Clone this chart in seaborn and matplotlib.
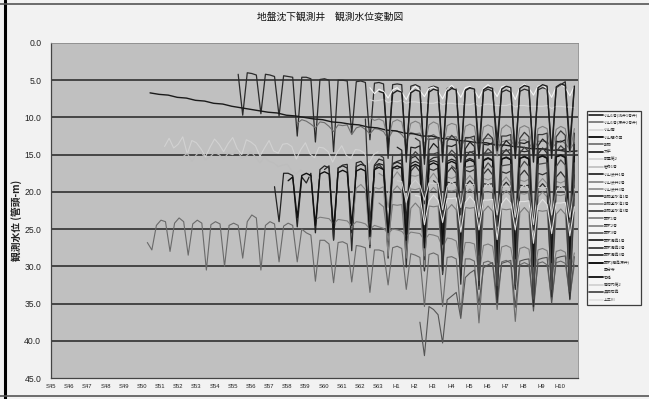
import numpy as np
import pandas as pd
import matplotlib
matplotlib.use("Agg")
import matplotlib.pyplot as plt
import seaborn as sns
from matplotlib.lines import Line2D

sns.set_style("white")
plt.rcParams['font.family'] = ['Liberation Sans', 'Noto Sans CJK JP', 'DejaVu Sans']

# ---------------- text / categories ----------------
title_text = "地盤沈下観測井　観測水位変動図"
ylabel_text = "観測水位 (管頭-m)"
x_tick_labels = ["S45", "S46", "S47", "S48", "S49", "S50", "S51", "S52", "S53", "S54",
                 "S55", "S56", "S57", "S58", "S59", "S60", "S61", "S62", "S63",
                 "H1", "H2", "H3", "H4", "H5", "H6", "H7", "H8", "H9", "H10", ""]
x_tick_years = list(range(1970, 2000))
y_ticks = [0, 5, 10, 15, 20, 25, 30, 35, 40, 45]
well_names = ["小山1号(浅井1号井)", "小山1号(深井2号井)", "小山南", "小山間々田", "藤岡",
              "大平", "部屋第2", "岩舟1号", "小山渋井1号", "小山渋井2号", "小山渋井3号",
              "藤岡遊水池1号", "藤岡遊水池2号", "藤岡遊水池3号", "野木1号", "野木2号",
              "野木3号", "野木潤島1号", "野木潤島2号", "野木潤島3号", "野木(潤島深井)",
              "国分寺", "石橋", "南河内第2", "真岡石島", "上三川"]

# ---------------- series values (depth below casing top, m) ----------------
w01 = [4.2, 9.7, 4.0,
       4.1, 4.3, 9.5, 4.2, 4.3, 4.5, 9.8, 4.4, 4.5, 4.6, 12.5, 4.6, 4.6, 4.8, 13.3, 4.9,
       4.8, 5.0, 14.6, 5.0, 5.0, 5.1, 12.2, 5.2, 5.1, 5.3, 13.0, 5.4, 5.3, 5.5, 15.5, 5.6,
       5.5, 5.6, 16.0, 5.8, 5.6, 5.9, 16.3, 6.0, 5.8, 6.0, 16.0, 6.1, 5.9, 6.2, 15.5, 6.3,
       6.0, 6.3, 14.0, 6.5, 6.2, 6.5, 13.0, 6.6, 6.3, 6.6, 14.5, 6.5, 6.2, 6.4, 15.0, 6.3,
       6.0, 6.2, 14.5, 6.0, 5.6, 5.2, 13.5, 5.8]
w02 = [10.8, 10.3,
       10.5, 10.9, 11.4, 10.6, 10.7, 11.2, 11.9, 11.0, 11.1, 11.0, 12.3, 11.4,
       11.2, 11.6, 12.2, 11.5, 11.6, 11.9, 12.9, 11.8, 11.8, 12.3, 13.1, 12.0,
       12.2, 12.1, 13.5, 12.6, 12.3, 12.8, 13.4, 12.6, 12.6, 12.6, 14.0, 12.9,
       12.7, 13.1, 13.7, 12.9, 12.8, 12.9, 14.4, 13.3, 13.1, 13.0, 14.1, 13.1,
       13.0, 13.4, 14.5, 13.2, 13.2, 13.2, 14.1, 13.5, 13.1, 13.5, 14.3, 13.4]
w03 = [7.6, 7.8,
       7.7, 7.6, 8.0, 7.8, 7.9, 7.7, 8.1, 7.9, 7.9, 8.0, 8.0, 8.1, 8.1, 7.9, 8.3, 8.1,
       8.1, 8.2, 8.2, 8.3, 8.3, 8.1, 8.5, 8.3, 8.2, 8.3, 8.4, 8.4, 8.4, 8.2, 8.6, 8.4,
       8.4, 8.5, 8.5, 8.5, 8.5, 8.4, 8.8, 8.5, 8.5, 8.6, 8.6, 8.7]
w04 = [6.7, 6.9, 7.0, 7.3, 7.4, 7.7, 7.8, 8.1, 8.2, 8.5, 8.7, 8.9, 9.1, 9.3, 9.4, 9.7,
       9.8, 10.0, 10.2, 10.3, 10.6, 10.7, 10.9, 11.0, 11.3, 11.4, 11.7, 11.8, 12.1, 12.2,
       12.5, 12.5, 12.8, 12.9, 13.1, 13.2, 13.4, 13.4, 13.7, 13.7, 13.9, 14.0, 14.2, 14.2,
       14.4, 14.4, 14.6, 14.5]
w05 = [26.8, 27.8, 24.5,
       23.8, 24.0, 28.0, 24.2, 23.5, 24.0, 28.5, 24.3, 23.8, 24.2, 30.5, 24.4,
       24.0, 24.3, 30.0, 24.5, 24.2, 24.5, 28.9, 24.0, 23.1, 23.5, 30.5, 24.5,
       24.0, 24.3, 29.4, 24.6, 24.2, 24.5, 29.4, 25.0, 25.5, 25.8, 32.0, 26.5,
       26.5, 27.0, 32.2, 26.8, 26.7, 27.0, 32.1, 27.2, 27.3, 27.5, 33.5, 27.8,
       27.8, 28.0, 32.5, 27.5, 27.3, 27.6, 33.1, 28.3, 28.5, 28.8, 35.4, 28.4,
       28.2, 28.5, 35.4, 28.8, 28.7, 29.0, 36.5, 29.0, 29.0, 29.3, 37.6, 29.5,
       29.3, 29.6, 35.8, 29.4, 29.2, 29.6, 37.4, 29.8, 29.5, 29.8, 35.2, 29.6,
       29.4, 29.8, 34.5, 29.5, 29.3, 29.6, 34.0, 29.8]
w06 = [19.3, 24.0, 17.5,
       17.5, 17.8, 24.7, 18.0, 18.8, 17.5, 25.5, 17.0, 16.5, 16.8, 26.4, 16.8,
       16.5, 16.8, 25.5, 16.6, 16.3, 16.5, 27.5, 16.5, 16.2, 16.4, 26.0, 16.3,
       16.0, 16.3, 25.5, 16.2, 15.9, 16.2, 29.1, 16.0, 15.8, 16.0, 28.5, 15.9,
       15.6, 15.9, 29.1, 15.8, 15.5, 15.8, 30.0, 15.7, 15.4, 15.7, 31.4, 15.6,
       15.3, 15.6, 29.5, 15.5, 15.2, 15.5, 32.2, 15.4, 15.1, 15.4, 31.8, 15.3,
       15.0, 15.3, 31.4, 15.2]
w07 = [13.9, 12.8, 14.1,
       13.6, 12.6, 14.9, 13.1, 13.4, 14.2, 15.3, 14.0, 12.9, 13.6, 14.6, 13.5,
       12.7, 14.2, 15.0, 13.0, 13.3, 13.8, 15.2, 14.1, 13.1, 14.5, 14.8, 13.6,
       13.5, 13.9, 15.6, 14.3, 13.4, 14.9, 15.4, 14.0, 14.1, 14.6, 16.0, 14.7,
       13.8, 15.1, 15.5, 14.3, 14.4, 14.8, 16.1, 15.0, 14.6]
w08 = [15.3, 14.8, 15.9,
       15.0, 14.5, 15.7, 15.3, 14.7, 15.0, 15.6, 14.8, 15.0, 14.4, 15.5, 15.2,
       14.6, 15.3, 16.1, 15.3, 15.9, 16.1, 16.6, 16.4, 16.3, 17.2, 17.6, 17.0,
       17.7, 17.9, 19.0, 18.0, 18.4, 17.9, 23.4, 18.6, 18.1, 18.4, 22.3, 18.2,
       17.7, 18.1, 22.1, 18.4, 17.5, 18.0, 21.3, 17.9, 17.6, 17.7, 22.2, 18.0,
       17.4, 17.9, 22.4, 17.7]
w09 = [17.0, 16.5, 26.5, 16.8, 16.4, 16.3, 27.9, 16.1, 15.9, 16.6, 27.2, 16.4,
       15.6, 15.8, 28.9, 16.2, 15.9, 15.7, 28.4, 15.5, 15.2, 15.9, 30.6, 15.8,
       15.4, 15.3, 29.1, 15.1, 14.9, 15.5, 31.2, 15.4, 14.6, 14.9, 30.4, 14.8,
       14.8, 14.7, 32.6, 15.0, 14.3, 15.0, 31.0, 14.5, 14.6, 14.5, 33.4, 14.9,
       14.1, 14.8, 32.1, 14.3, 14.4, 14.2, 32.8, 14.6]
w10 = [10.0, 10.4,
       10.2, 10.5, 13.0, 10.6, 10.3, 10.6, 13.6, 10.8, 10.5, 10.8, 14.0, 11.0,
       10.6, 10.9, 14.5, 11.1, 10.8, 11.0, 14.8, 11.2, 10.9, 11.2, 15.0, 11.3,
       11.0, 11.3, 15.2, 11.5, 11.0, 11.4, 15.0, 11.4, 11.1, 11.4, 15.3, 11.5,
       11.2, 11.5, 15.0, 11.6, 11.2, 11.5, 14.8, 11.5]
w11 = [17.5, 17.9, 22.1, 18.2, 17.3, 18.1, 23.6, 17.8, 17.9, 17.7, 24.4, 18.3,
       17.5, 18.4, 24.1, 18.0, 18.2, 17.9, 25.6, 18.5, 17.8, 18.6, 25.1, 18.2,
       18.4, 18.1, 26.4, 18.7, 18.0, 18.8, 25.0, 18.4, 18.6, 18.3, 27.0, 18.9,
       18.2, 18.9, 25.7, 18.6, 18.8, 18.5, 26.2, 19.1]
w12 = [10.2, 24.0, 17.0,
       16.3, 17.0, 28.1, 16.7, 16.9, 16.6, 30.1, 17.2, 16.5, 17.3, 30.6, 16.9,
       17.1, 16.8, 31.1, 17.4, 16.7, 17.5, 30.9, 17.1, 17.3, 17.0, 33.1, 17.6,
       16.9, 17.7, 32.4, 17.3, 17.5, 17.2, 32.6, 17.8, 17.1, 17.9, 34.0, 17.5,
       17.7, 17.4, 32.7, 18.0, 17.3, 18.1, 33.0, 17.7]
w13 = [25.0, 19.5,
       19.0, 19.7, 27.1, 19.4, 19.6, 19.3, 28.6, 19.9, 19.2, 19.9, 28.0, 19.6,
       19.7, 19.5, 30.1, 20.1, 19.4, 20.1, 28.6, 19.8, 19.9, 19.7, 30.6, 20.3,
       19.6, 20.3, 30.0, 20.0, 20.1, 19.9, 31.5, 20.5, 19.8, 20.5, 30.1, 20.2,
       20.3, 20.1, 32.0, 20.7, 20.0, 20.7, 30.6, 20.4, 20.5, 20.3, 31.0, 20.9]
w14 = [15.0, 15.4, 26.6, 15.1, 15.1, 14.9, 28.4, 15.4, 14.6, 15.2, 29.1, 14.9,
       14.9, 14.7, 30.9, 15.2, 14.4, 15.0, 31.1, 14.7, 14.7, 14.5, 32.5, 15.0,
       14.2, 14.8, 33.1, 14.5, 14.5, 14.3, 32.9, 14.8, 14.0, 14.6, 34.4, 14.3,
       14.3, 14.1, 33.1, 14.6, 13.8, 14.4, 33.4, 14.1]
w15 = [21.5, 22.0, 26.6, 21.7, 21.8, 21.7, 28.9, 22.2, 21.5, 22.2, 28.6, 21.9,
       22.0, 21.9, 30.4, 22.4, 21.7, 22.4, 30.6, 22.1, 22.2, 22.1, 31.9, 22.6,
       21.9, 22.6, 32.1, 22.3, 22.4, 22.3, 32.4, 22.8, 22.1, 22.8, 33.4, 22.5,
       22.6, 22.5, 32.1, 23.0, 22.3, 23.0, 32.4, 22.7]
w16 = [23.7, 23.4,
       23.5, 23.6, 24.3, 23.7, 23.8, 23.9, 24.6, 24.0, 24.1, 24.3, 25.0, 24.5,
       24.7, 24.9, 25.6, 25.0, 25.1, 25.3, 26.0, 25.4, 25.5, 25.6, 26.5, 25.7,
       25.8, 26.0, 27.5, 26.2, 26.3, 26.6, 30.0, 26.8, 26.8, 27.0, 31.0, 27.2,
       27.0, 27.3, 31.5, 27.4, 27.2, 27.5, 31.0, 27.6, 27.4, 27.7, 32.0, 27.8,
       27.6, 27.9, 31.5, 28.0, 27.8, 28.1, 31.0, 28.2]
w17 = [37.5, 42.0, 35.4,
       35.8, 36.5, 40.3, 34.5, 34.0, 33.5, 37.0, 31.5, 30.9, 30.5, 35.0, 30.2,
       29.8, 29.5, 34.5, 29.6, 29.4, 29.2, 35.5, 29.3, 29.1, 29.0, 36.0, 29.1,
       28.9, 28.8, 35.0, 28.9, 28.7, 28.6, 34.5, 28.7]
w18 = [14.0, 14.4, 24.1, 14.0, 14.1, 13.8, 26.4, 14.4, 13.5, 14.1, 26.1, 13.8,
       13.9, 13.6, 27.4, 14.2, 13.3, 13.9, 27.1, 13.6, 13.7, 13.4, 28.9, 14.0,
       13.1, 13.7, 27.6, 13.4, 13.5, 13.2, 29.4, 13.8, 12.9, 13.5, 28.1, 13.2,
       13.3, 13.0, 28.4, 13.6]
w19 = [12.8, 13.2, 21.6, 12.9, 12.9, 12.7, 23.4, 13.2, 12.4, 13.0, 23.1, 12.7,
       12.7, 12.5, 24.4, 13.0, 12.2, 12.8, 24.6, 12.5, 12.5, 12.3, 24.9, 12.8,
       12.0, 12.6, 25.1, 12.3, 12.3, 12.1, 25.4, 12.6, 11.8, 12.4, 24.1, 12.1]
w20 = [18.5, 19.0, 30.6, 18.7, 18.8, 18.7, 32.4, 19.2, 18.5, 19.2, 32.6, 18.9,
       19.0, 18.9, 34.9, 19.4, 18.7, 19.4, 33.1, 19.1, 19.2, 19.1, 35.4, 19.6,
       18.9, 19.6, 34.1, 19.3, 19.4, 19.3, 34.4, 19.8]
w21 = [18.5, 18.0, 23.5, 17.8, 17.5, 17.8, 24.5, 17.6, 17.3, 17.6, 25.0, 17.4,
       17.1, 17.4, 24.5, 17.2, 16.9, 17.2, 26.0, 17.0, 16.7, 17.0, 25.5, 16.8,
       16.5, 16.8, 26.5, 16.6, 16.3, 16.6, 27.5, 16.4, 16.1, 16.4, 27.0, 16.2,
       15.9, 16.2, 28.0, 16.0, 15.7, 16.0, 28.5, 15.8, 15.5, 15.8, 29.5, 15.6,
       15.4, 15.7, 29.0, 15.5, 15.3, 15.6, 30.0, 15.4, 15.2, 15.5, 29.5, 15.3,
       15.1, 15.4, 29.0, 15.2]
w22 = [6.0, 6.8,
       6.2, 6.5, 7.4, 6.3, 6.0, 6.6, 7.6, 6.4, 5.8, 6.4, 7.2, 6.1, 5.9, 6.5, 7.5, 6.2,
       5.7, 6.3, 7.3, 6.0, 5.8, 6.4, 7.4, 6.1, 5.6, 6.2, 7.2, 5.9, 5.7, 6.3, 7.6, 6.0,
       5.5, 6.1, 7.0, 5.8, 5.6, 6.2, 7.3, 5.9, 5.5, 6.0, 7.1, 5.8]
w23 = [6.5, 6.7, 14.0, 6.8, 6.4, 6.6, 15.0, 6.7, 6.3, 6.5, 15.5, 6.6,
       6.2, 6.4, 15.0, 6.5, 6.1, 6.3, 16.0, 6.4, 6.0, 6.2, 15.5, 6.3,
       5.9, 6.1, 14.5, 6.2, 5.8, 6.0, 15.5, 6.1, 5.7, 5.9, 16.0, 6.0,
       5.6, 5.8, 15.5, 5.9, 5.5, 5.7, 14.5, 5.8]
w24 = [18.5, 18.6, 21.4, 19.1, 18.4, 19.1, 21.1, 18.8, 18.9, 18.8, 22.4, 19.3,
       18.6, 19.3, 22.1, 19.0, 19.1, 19.0, 23.4, 19.5, 18.8, 19.5, 23.1, 19.2,
       19.3, 19.2, 23.4, 19.7, 19.0, 19.7, 24.4, 19.4, 19.5, 19.4, 23.1, 19.9,
       19.2, 19.9, 23.4, 19.6]
w25 = [16.5, 17.0, 29.6, 16.7, 16.6, 16.5, 31.9, 17.0, 16.1, 16.8, 32.6, 16.5,
       16.4, 16.3, 32.4, 16.8, 15.9, 16.6, 34.4, 16.3, 16.2, 16.1, 33.1, 16.6,
       15.7, 16.4, 33.4, 16.1]
w26 = [20.5, 20.6, 24.4, 21.2, 20.4, 21.1, 24.1, 20.9, 20.9, 20.8, 25.4, 21.4,
       20.6, 21.3, 25.1, 21.1, 21.1, 21.0, 26.4, 21.6, 20.8, 21.5, 25.1, 21.3,
       21.3, 21.2, 26.9, 21.8, 21.0, 21.7, 25.6, 21.5, 21.5, 21.4, 25.9, 22.0]

series_values = [w01, w02, w03, w04, w05, w06, w07, w08, w09, w10, w11, w12, w13,
                 w14, w15, w16, w17, w18, w19, w20, w21, w22, w23, w24, w25, w26]
# first observation time (year) and sampling step (year) of each series
series_start = [1980.30, 1983.55, 1987.55, 1975.45, 1975.30, 1982.30, 1976.25, 1977.25,
                1985.05, 1987.55, 1988.05, 1987.30, 1986.55, 1988.05, 1988.05, 1984.55,
                1990.30, 1989.05, 1990.05, 1991.05, 1983.05, 1987.55, 1988.05, 1989.05,
                1992.05, 1990.05]
series_step = [0.25, 0.25, 0.25, 0.5] + [0.25] * 22

# ---------------- styles ----------------
line_colors = ["#2b2b2b", "#6e6e6e", "#d6d6d6", "#1a1a1a", "#6a6a6a", "#222222", "#d2d2d2",
               "#bdbdbd", "#2a2a2a", "#808080", "#8c8c8c", "#333333", "#888888", "#404040",
               "#7a7a7a", "#7e7e7e", "#555555", "#222222", "#3a3a3a", "#2e2e2e", "#111111",
               "#f4f4f4", "#1e1e1e", "#cfcfcf", "#4a4a4a", "#e0e0e0"]
line_widths = [0.9, 0.8, 0.8, 1.0, 0.8, 0.9, 0.8, 0.8, 0.9, 0.8, 0.8, 0.9, 0.8, 0.9,
               0.8, 0.8, 0.8, 0.9, 0.9, 0.9, 1.0, 0.8, 1.0, 0.8, 0.9, 0.8]

W, H = 649, 399
fig = plt.figure(figsize=(W / 100, H / 100), dpi=100, facecolor="#f2f2f2")
ax = fig.add_axes([51 / W, 1 - 378 / H, (578 - 51) / W, (378 - 43) / H])
ax.set_facecolor("#c0c0c0")

handles = []
for name, vals, st, step, col, lw in zip(well_names, series_values, series_start,
                                        series_step, line_colors, line_widths):
    df = pd.DataFrame({"year": st + step * np.arange(len(vals)), "level": vals})
    sns.lineplot(data=df, x="year", y="level", ax=ax, color=col, linewidth=lw,
                 estimator=None, sort=False, legend=False)
    handles.append(Line2D([0], [0], color=col, linewidth=lw + 0.4))

ax.set_xlim(1970, 1999)
ax.set_ylim(45, 0)
ax.set_yticks(y_ticks)
ax.set_yticklabels([f"{v:.1f}" for v in y_ticks], fontsize=6.2, color="#222222")
ax.set_xticks(x_tick_years)
ax.set_xticklabels(x_tick_labels, fontsize=4.2, color="#222222")
ax.tick_params(axis="x", length=2.5, width=0.6, color="#333333", pad=2, direction="out")
ax.tick_params(axis="y", length=2, width=0.6, color="#333333", pad=5, direction="out")
ax.set_xlabel("")
ax.set_ylabel("")
for yv in y_ticks[1:-1]:
    ax.axhline(yv, color="#3c3c3c", linewidth=1.3, zorder=0.5)
for side in ["left", "bottom"]:
    ax.spines[side].set_color("#444444")
    ax.spines[side].set_linewidth(0.9)
for side in ["top", "right"]:
    ax.spines[side].set_color("#8a8a8a")
    ax.spines[side].set_linewidth(0.6)

fig.text(330 / W, 1 - 17 / H, title_text, ha="center", va="center", fontsize=7,
         family=["Noto Sans CJK JP", "DejaVu Sans"], color="#111111")
fig.text(17 / W, 1 - 220 / H, ylabel_text, ha="center", va="center", rotation=90,
         fontsize=7, fontweight="bold", family=["Noto Sans CJK JP", "DejaVu Sans"],
         color="#222222")

leg = fig.legend(handles, well_names, loc="upper left",
                 bbox_to_anchor=(587 / W, 1 - 111 / H),
                 prop={"family": ["Noto Sans CJK JP", "DejaVu Sans"], "size": 2.8},
                 frameon=True, fancybox=False, edgecolor="#111111", facecolor="#f7f7f7",
                 handlelength=3.4, handletextpad=0.4, labelspacing=0.86, borderpad=0.6,
                 borderaxespad=0)
leg.get_frame().set_linewidth(0.9)

# outer frame of the chart area
fig.add_artist(Line2D([5 / W, 5 / W], [0, 1], transform=fig.transFigure, color="#000000", linewidth=2.2))
fig.add_artist(Line2D([0, 1], [1 - 4 / H, 1 - 4 / H], transform=fig.transFigure, color="#555555", linewidth=1.2))
fig.add_artist(Line2D([0, 1], [1 - 396 / H, 1 - 396 / H], transform=fig.transFigure, color="#555555", linewidth=1.2))

fig.savefig("out.png", dpi=100, facecolor=fig.get_facecolor())
